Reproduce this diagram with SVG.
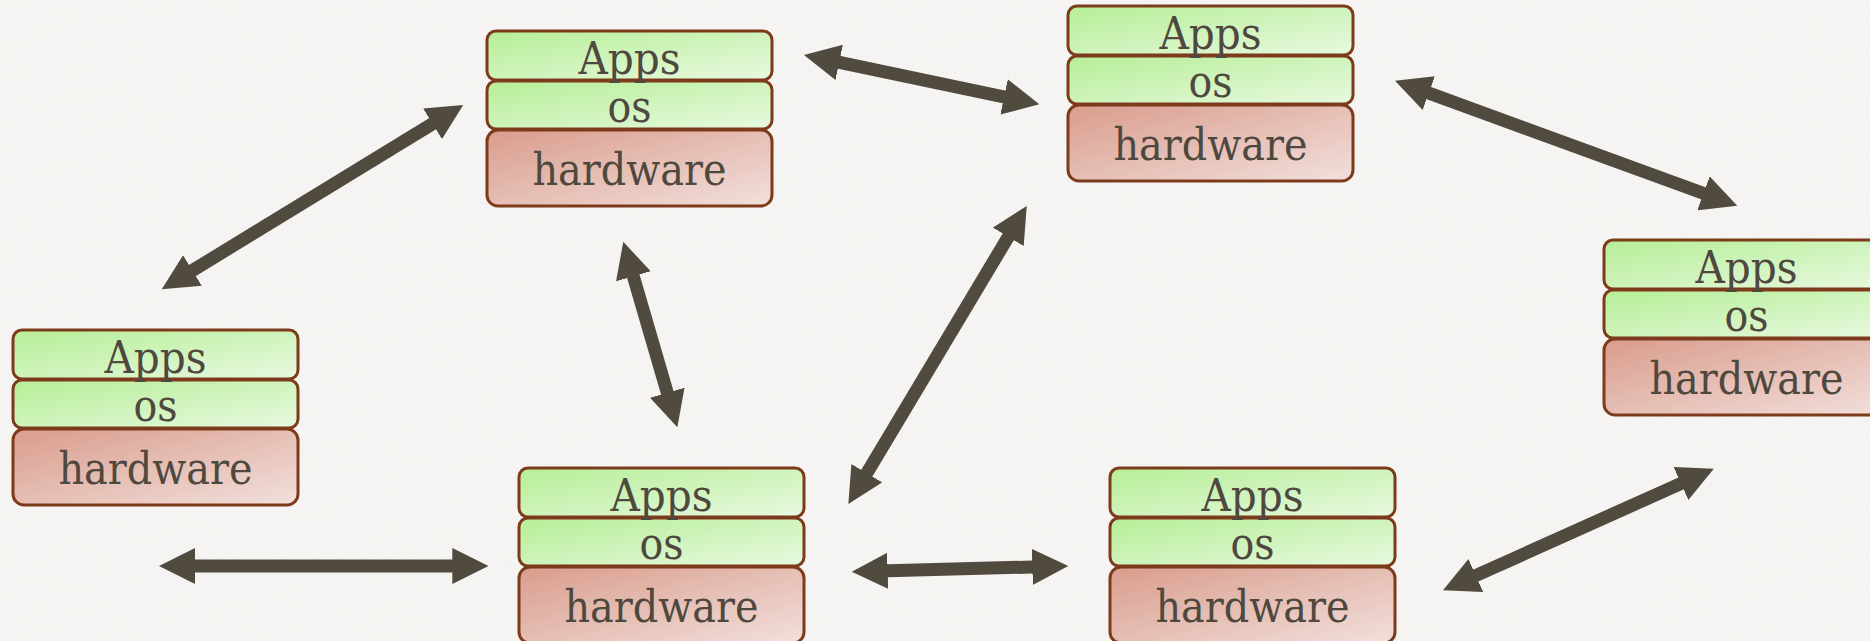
<svg xmlns="http://www.w3.org/2000/svg" width="1870" height="641" viewBox="0 0 1870 641">
  <defs>
    <linearGradient id="gGreen" x1="0" y1="0" x2="1" y2="1">
      <stop offset="0" stop-color="#b6ee96"/>
      <stop offset="1" stop-color="#e8f9e0"/>
    </linearGradient>
    <linearGradient id="gRed" x1="0" y1="0" x2="1" y2="1">
      <stop offset="0" stop-color="#d99c8c"/>
      <stop offset="1" stop-color="#f2e0dc"/>
    </linearGradient>
    <filter id="paper" x="0" y="0" width="100%" height="100%">
      <feTurbulence type="fractalNoise" baseFrequency="0.9 0.35" numOctaves="2" seed="4" result="n"/>
      <feColorMatrix in="n" type="matrix" values="0 0 0 0 0.86  0 0 0 0 0.85  0 0 0 0 0.83  0 0 0 -2.2 1.25" result="c"/>
      <feComposite in="c" in2="SourceGraphic" operator="in"/>
    </filter>
    <marker id="head" viewBox="0 0 36 36" refX="18" refY="18" markerWidth="36" markerHeight="36" orient="auto-start-reverse" markerUnits="userSpaceOnUse">
      <path d="M0,0 L36,18 L0,36 z" fill="#514a3f"/>
    </marker>
    <g id="stack">
      <rect class="layer green" x="0" y="0" width="285" height="49" rx="9"/>
      <rect class="layer green" x="0" y="50" width="285" height="48" rx="9"/>
      <rect class="layer red" x="0" y="99" width="285" height="76" rx="11"/>
      <text class="lbl" x="142.5" y="42.5" textLength="102" lengthAdjust="spacingAndGlyphs">Apps</text>
      <text class="lbl" x="142.5" y="90.5" textLength="44" lengthAdjust="spacingAndGlyphs">os</text>
      <text class="lbl" x="142.5" y="154" textLength="194" lengthAdjust="spacingAndGlyphs">hardware</text>
    </g>
  </defs>
  <style>
    .layer { stroke: #7d3b1c; stroke-width: 3; }
    .green { fill: url(#gGreen); }
    .red { fill: url(#gRed); }
    .lbl { font-family: "DejaVu Serif Condensed", "DejaVu Serif", "Liberation Serif", serif; font-stretch: condensed; font-size: 44px; fill: #4e483e; text-anchor: middle; }
    .link { stroke: #514a3f; stroke-width: 13; fill: none; marker-start: url(#head); marker-end: url(#head); }
  </style>

  <!-- paper background -->
  <rect width="1870" height="641" fill="#f6f5f3"/>
  <rect width="1870" height="641" fill="#f6f5f3" filter="url(#paper)" opacity="0.6"/>

  <!-- machines: each one is an apps / os / hardware stack -->
  <g id="node-top"><use href="#stack" x="487" y="31"/></g>
  <g id="node-left"><use href="#stack" x="13" y="330"/></g>
  <g id="node-top-right"><use href="#stack" x="1068" y="6"/></g>
  <g id="node-right"><use href="#stack" x="1604" y="240"/></g>
  <g id="node-bottom-center"><use href="#stack" x="519" y="468"/></g>
  <g id="node-bottom-right"><use href="#stack" x="1110" y="468"/></g>

  <!-- two-way links between machines -->
  <g id="connectors">
    <line class="link" x1="177.1" y1="279.9" x2="447.9" y2="114.4"/>
    <line class="link" x1="821.6" y1="58.7" x2="1021.7" y2="100.6"/>
    <line class="link" x1="1411.9" y1="86.9" x2="1720.4" y2="199.5"/>
    <line class="link" x1="628.3" y1="259" x2="672.3" y2="410"/>
    <line class="link" x1="1017.5" y1="221.4" x2="857.6" y2="488.6"/>
    <line class="link" x1="177" y1="566" x2="470.3" y2="566"/>
    <line class="link" x1="869.7" y1="571.2" x2="1050.3" y2="566.5"/>
    <line class="link" x1="1459.4" y1="582.9" x2="1697.4" y2="476.1"/>
  </g>
</svg>
